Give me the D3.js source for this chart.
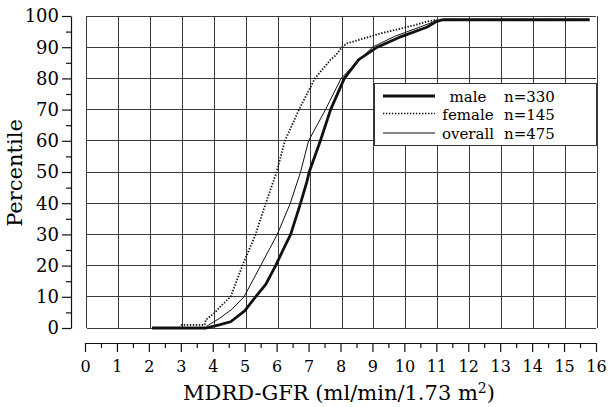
<!DOCTYPE html>
<html>
<head>
<meta charset="utf-8">
<script src="https://cdn.jsdelivr.net/npm/d3@7"></script>
<style>
  body { margin: 0; background: #fff; }
  svg { display: block; font-family: "DejaVu Serif", "Liberation Serif", serif; }
</style>
</head>
<body>
<div id="chart"></div>
<script>
// axis ticks
const gfrTicks = d3.range(0, 17);
const gfrMinor = d3.range(0.5, 16, 1);
const pctTicks = d3.range(0, 101, 10);
const pctMinor = d3.range(5, 100, 10);

// cumulative distributions (GFR, percentile)
const maleGfr = [2.1, 3.8, 4.2, 4.56, 5.0, 5.34, 5.66, 5.97, 6.2, 6.44, 6.75, 6.95, 7.02, 7.37, 7.69, 8.12, 8.57, 9.15, 9.9, 10.7, 11.0, 11.2, 15.8];
const malePct = [0, 0, 1, 2, 5.5, 10, 14, 20, 25, 30, 40, 47, 50, 60, 70, 80, 86, 90, 93.4, 96.4, 98.2, 98.8, 98.8];

const femaleGfr = [3.0, 3.75, 3.78, 4.04, 4.3, 4.56, 4.93, 5.34, 5.66, 6.0, 6.26, 6.7, 7.2, 7.69, 7.84, 8.05, 8.2, 9.25, 10.3, 10.7, 11.0, 15.8];
const femalePct = [1, 1, 2.6, 4.7, 7.5, 10, 20, 30, 40, 50, 60, 70, 80, 86, 87.3, 90, 91.2, 94.4, 97, 98.2, 98.8, 98.8];

const overallGfr = [3.8, 4.2, 4.6, 4.98, 5.5, 6.02, 6.43, 6.75, 7.0, 7.53, 8.02, 8.5, 9.0, 9.7, 10.5, 11.0, 11.2, 15.8];
const overallPct = [0.5, 3, 6, 10, 20, 30, 40, 50, 60, 70, 80, 85, 90, 93.5, 96.5, 98.5, 98.8, 98.8];

const legendNames = ["male", "female", "overall"];
const legendCounts = ["n=330", "n=145", "n=475"];

const W = 608, H = 407;
const svg = d3.select("#chart").append("svg")
  .attr("width", W)
  .attr("height", H);

const x = d3.scaleLinear().domain([0, 16]).range([85, 596]);
const y = d3.scaleLinear().domain([0, 100]).range([328, 16]);

// grid
const grid = svg.append("g").attr("class", "grid")
  .attr("stroke", "#3a3a3a")
  .attr("stroke-width", 1)
  .attr("shape-rendering", "crispEdges");
grid.selectAll(".gv").data(gfrTicks).join("line")
  .attr("x1", d => x(d) + 1.5).attr("x2", d => x(d) + 1.5)
  .attr("y1", y(100)).attr("y2", y(0));
grid.selectAll(".gh").data(pctTicks).join("line")
  .attr("x1", x(0) + 1.5).attr("x2", x(16))
  .attr("y1", d => y(d)).attr("y2", d => y(d));

// y axis
const yAxisX = 71;
const yAxis = svg.append("g")
  .attr("transform", `translate(${yAxisX},0)`)
  .call(d3.axisLeft(y).tickValues(pctTicks).tickSize(9).tickSizeOuter(0).tickPadding(3));
svg.append("g")
  .attr("transform", `translate(${yAxisX},0)`)
  .call(d3.axisLeft(y).tickValues(pctMinor).tickSize(5).tickFormat(""))
  .call(g => g.select(".domain").remove());
yAxis.selectAll("text")
  .attr("font-family", "DejaVu Serif")
  .attr("font-size", 18)
  .attr("dy", "0.33em")
  .attr("fill", "#000");

// x axis
const xAxisY = 343;
const xAxis = svg.append("g")
  .attr("transform", `translate(0,${xAxisY})`)
  .call(d3.axisBottom(x).tickValues(gfrTicks).tickSize(9).tickSizeOuter(0));
svg.append("g")
  .attr("transform", `translate(0,${xAxisY})`)
  .call(d3.axisBottom(x).tickValues(gfrMinor).tickSize(5).tickFormat(""))
  .call(g => g.select(".domain").remove());
xAxis.selectAll("text")
  .attr("y", 29)
  .attr("dy", null)
  .attr("font-family", "DejaVu Serif")
  .attr("font-size", 16)
  .attr("fill", "#000");

svg.selectAll(".domain, .tick line").attr("stroke", "#111").attr("stroke-width", 1.2);

// axis titles
svg.append("text")
  .attr("transform", "translate(22,173) rotate(-90)")
  .attr("text-anchor", "middle")
  .attr("font-size", 21)
  .attr("fill", "#000")
  .text("Percentile");

const xt = svg.append("text")
  .attr("x", 339)
  .attr("y", 400)
  .attr("text-anchor", "middle")
  .attr("font-size", 21)
  .attr("fill", "#000");
xt.append("tspan").text("MDRD-GFR (ml/min/1.73 m");
xt.append("tspan").attr("font-size", 14).attr("dy", -7).text("2");
xt.append("tspan").attr("dy", 7).text(")");

// curves
const line = d3.line()
  .x(d => x(d[0]))
  .y(d => y(d[1]));

const series = [
  {name: "overall", pts: d3.zip(overallGfr, overallPct), width: 1, dash: null},
  {name: "female", pts: d3.zip(femaleGfr, femalePct), width: 1.8, dash: "1.4,1.6"},
  {name: "male", pts: d3.zip(maleGfr, malePct), width: 2.8, dash: null}
];
svg.append("g").selectAll("path").data(series).join("path")
  .attr("d", d => line(d.pts))
  .attr("fill", "none")
  .attr("stroke", "#111")
  .attr("stroke-width", d => d.width)
  .attr("stroke-dasharray", d => d.dash)
  .attr("stroke-linejoin", "round");

// legend
const legend = svg.append("g");
legend.append("rect")
  .attr("x", 374).attr("y", 83)
  .attr("width", 222).attr("height", 62)
  .attr("fill", "#fff")
  .attr("stroke", "#333")
  .attr("stroke-width", 1)
  .attr("shape-rendering", "crispEdges");

const legendStyle = {
  male: {width: 2.8, dash: null},
  female: {width: 1.5, dash: "1.4,1.6"},
  overall: {width: 1, dash: null}
};
const rowLine = [96, 113.5, 133];
const rowText = [101.5, 119.5, 138.5];

legendNames.forEach((name, i) => {
  legend.append("line")
    .attr("x1", 383).attr("x2", 435)
    .attr("y1", rowLine[i]).attr("y2", rowLine[i])
    .attr("stroke", "#111")
    .attr("stroke-width", legendStyle[name].width)
    .attr("stroke-dasharray", legendStyle[name].dash);
  legend.append("text")
    .attr("x", 468).attr("y", rowText[i])
    .attr("text-anchor", "middle")
    .attr("font-size", 15)
    .attr("fill", "#000")
    .text(name);
  legend.append("text")
    .attr("x", 504).attr("y", rowText[i])
    .attr("font-size", 15)
    .attr("fill", "#000")
    .text(legendCounts[i]);
});
</script>
</body>
</html>
